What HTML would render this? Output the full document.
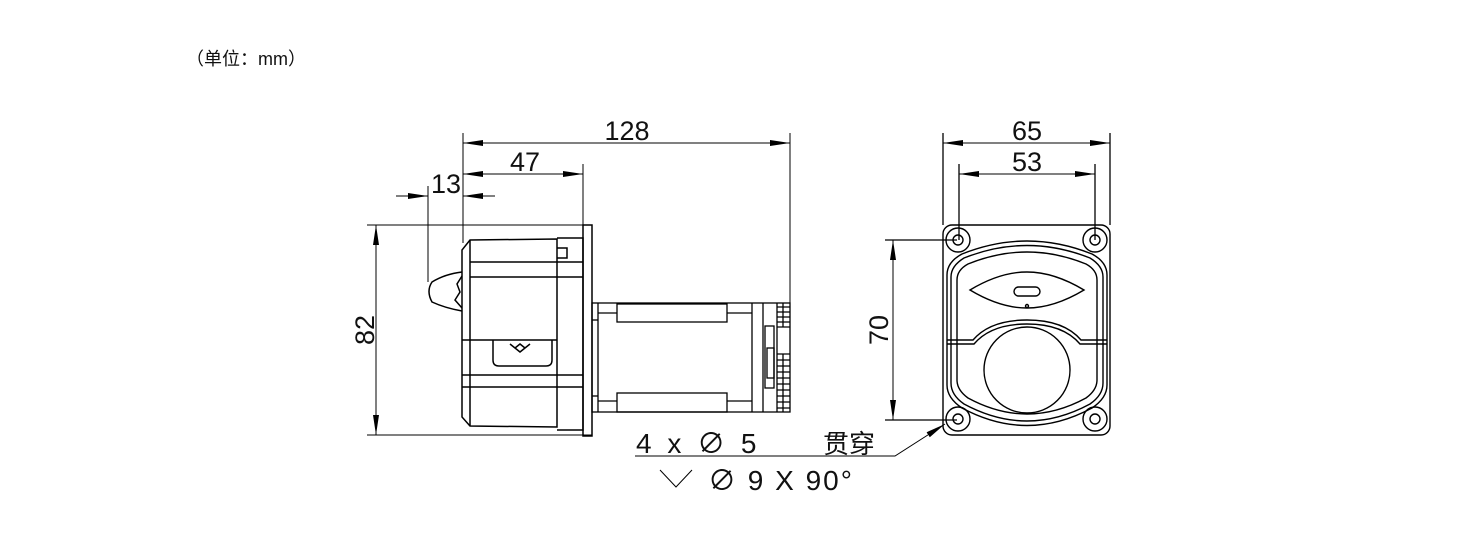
<!DOCTYPE html>
<html><head><meta charset="utf-8"><style>
html,body{margin:0;padding:0;background:#fff;}
svg{display:block;}
text{font-family:"Liberation Sans","Noto Sans CJK SC",sans-serif;fill:#111;}
</style></head><body>
<svg width="1484" height="547" viewBox="0 0 1484 547" xmlns="http://www.w3.org/2000/svg">
<defs>
<marker id="a" viewBox="0 0 20 6" refX="20" refY="3" markerWidth="20" markerHeight="6" orient="auto-start-reverse" markerUnits="userSpaceOnUse"><path d="M0,0L20,3L0,6z" fill="#000"/></marker>
</defs>
<text x="186" y="65" font-size="18">（单位：mm）</text>
<g stroke="#000" fill="none" stroke-width="1">
<line x1="463" y1="133" x2="463" y2="243"/>
<line x1="790" y1="133" x2="790" y2="303"/>
<line x1="583" y1="164" x2="583" y2="226"/>
<line x1="428" y1="186" x2="428" y2="282"/>
<line x1="367" y1="225" x2="592" y2="225"/>
<line x1="367" y1="435" x2="592" y2="435"/>
<line x1="463" y1="143" x2="790" y2="143" marker-start="url(#a)" marker-end="url(#a)"/>
<line x1="463" y1="174" x2="583" y2="174" marker-start="url(#a)" marker-end="url(#a)"/>
<line x1="396" y1="196" x2="428" y2="196" marker-end="url(#a)"/>
<line x1="495" y1="196" x2="463" y2="196" marker-end="url(#a)"/>
<line x1="376" y1="225" x2="376" y2="435" marker-start="url(#a)" marker-end="url(#a)"/>
</g>
<text x="627" y="140" font-size="27" text-anchor="middle">128</text>
<text x="525" y="171" font-size="27" text-anchor="middle">47</text>
<text x="446" y="193" font-size="27" text-anchor="middle">13</text>
<text transform="translate(374,330) rotate(-90)" font-size="27" text-anchor="middle">82</text>
<g stroke="#000" fill="none" stroke-width="1.5">
<rect x="583" y="225" width="9" height="211"/>
<path d="M470,240 L557,239 L557,427 L470,426 L462,417 L462,250 Z"/>
<line x1="470" y1="240" x2="470" y2="426"/>
<path d="M557,238 L583,238 L583,430 L557,430"/>
<path d="M557,248 L567,248 L567,258 L557,258"/>
<line x1="470" y1="262" x2="583" y2="262"/>
<line x1="470" y1="277" x2="583" y2="277"/>
<line x1="462" y1="340" x2="557" y2="340"/>
<line x1="462" y1="375" x2="583" y2="375"/>
<line x1="462" y1="387" x2="583" y2="387"/>
<path d="M493,340 L493,360 Q493,366 499,366 L546,366 Q552,366 552,360 L552,340"/>
<path d="M510,344 L520,352 L530,344 M515,348 L520,344 L525,348"/>
<path d="M462,272 Q445,274 432,282 Q426,291 432,302 Q445,308 462,311"/>
<path d="M462,276 L457,284 L460,292 L455,300 L462,308"/>
</g>
<g stroke="#000" fill="none" stroke-width="1.3">
<rect x="592" y="303" width="198" height="109"/>
<line x1="598" y1="303" x2="598" y2="412"/>
<line x1="752" y1="303" x2="752" y2="412"/>
<line x1="763" y1="303" x2="763" y2="412"/>
<rect x="617" y="304" width="110" height="18"/>
<rect x="617" y="393" width="110" height="19"/>
<line x1="598" y1="313" x2="617" y2="313"/>
<line x1="727" y1="313" x2="752" y2="313"/>
<line x1="598" y1="401" x2="617" y2="401"/>
<line x1="727" y1="401" x2="752" y2="401"/>
<line x1="592" y1="320" x2="598" y2="320"/>
<line x1="592" y1="396" x2="598" y2="396"/>
<line x1="777" y1="303" x2="777" y2="412"/>
<path d="M777,307 H790 M777,312 H790 M777,317 H790 M777,322 H790 M777,327 H790 M777,354 H790 M777,360 H790 M777,366 H790 M777,372 H790 M777,378 H790 M777,384 H790 M777,390 H790 M777,396 H790 M777,402 H790 M777,408 H790"/>
<path d="M783,303 V327 M783,354 V412"/>
<rect x="765" y="326" width="9" height="62"/>
<rect x="767" y="348" width="7" height="30"/>
</g>
<g stroke="#000" fill="none" stroke-width="1.3">
<line x1="943" y1="133" x2="943" y2="225"/>
<line x1="1110" y1="133" x2="1110" y2="225"/>
<line x1="959" y1="164" x2="959" y2="240"/>
<line x1="1095" y1="164" x2="1095" y2="240"/>
<line x1="885" y1="240" x2="957" y2="240"/>
<line x1="885" y1="420" x2="957" y2="420"/>
</g>
<g stroke="#000" fill="none" stroke-width="1">
<line x1="943" y1="143" x2="1110" y2="143" marker-start="url(#a)" marker-end="url(#a)"/>
<line x1="959" y1="174" x2="1095" y2="174" marker-start="url(#a)" marker-end="url(#a)"/>
<line x1="893" y1="240" x2="893" y2="420" marker-start="url(#a)" marker-end="url(#a)"/>
</g>
<text x="1027" y="140" font-size="27" text-anchor="middle">65</text>
<text x="1027" y="171" font-size="27" text-anchor="middle">53</text>
<text transform="translate(888,330) rotate(-90)" font-size="27" text-anchor="middle">70</text>
<g stroke="#000" fill="none" stroke-width="1.4">
<rect x="943" y="225" width="167" height="210" rx="9"/>
<circle cx="958" cy="240" r="12"/><circle cx="958" cy="240" r="5"/>
<circle cx="1095" cy="240" r="12"/><circle cx="1095" cy="240" r="5"/>
<circle cx="958" cy="419" r="12"/><circle cx="958" cy="419" r="5"/>
<circle cx="1095" cy="419" r="12"/><circle cx="1095" cy="419" r="5"/>
<path d="M947,275 Q947,262 962,254 Q1027,228 1092,254 Q1107,262 1107,275 L1107,385 Q1107,398 1092,408 Q1027,443 962,408 Q947,398 947,385 Z"/>
<path d="M951,277 Q951,266 964,258 Q1027,233 1090,258 Q1103,266 1103,277 L1103,383 Q1103,395 1090,404 Q1027,438 964,404 Q951,395 951,383 Z"/>
<path d="M957,280 Q957,270 968,264 Q1027,240 1086,264 Q1097,270 1097,280 L1097,380 Q1097,390 1086,398 Q1027,430 968,398 Q957,390 957,380 Z"/>
<path d="M970,290 Q1000,272 1027,272 Q1054,272 1084,290 Q1054,308 1027,308 Q1000,308 970,290 Z"/>
<rect x="1014" y="287" width="26" height="9" rx="4.5"/>
<path d="M947,340 L973,340 Q990,320 1027,320 Q1064,320 1081,340 L1107,340"/>
<path d="M947,344 L974,344 Q991,324 1027,324 Q1063,324 1080,344 L1107,344"/>
<circle cx="1027" cy="370" r="43"/>
<circle cx="1027" cy="306" r="1.5"/>
</g>
<g stroke="#000" fill="none" stroke-width="1">
<path d="M635,456 L895,456 L945,424" marker-end="url(#a)"/>
<path d="M660,470 L676,487 L692,470"/>
</g>
<text x="636" y="453" font-size="28" letter-spacing="4">4 x ∅ 5</text>
<text x="823" y="453" font-size="26">贯穿</text>
<text x="708" y="490" font-size="28" letter-spacing="2">∅ 9 X 90°</text>
</svg>
</body></html>
